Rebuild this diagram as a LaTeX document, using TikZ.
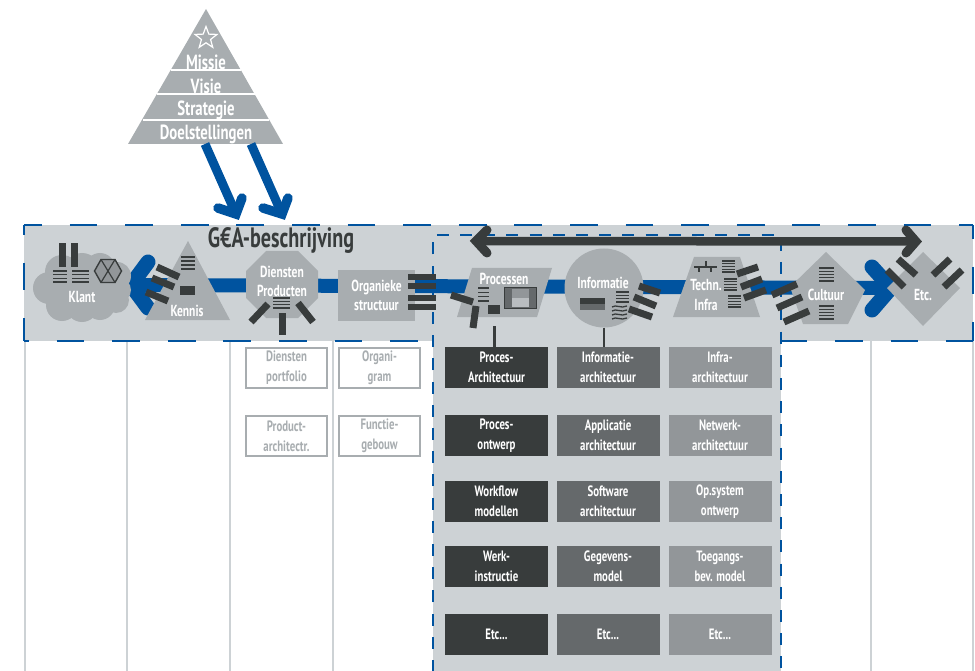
\documentclass[tikz,border=0pt]{standalone}
\usepackage{fontspec}
\setmainfont[FakeStretch=0.72]{PT Sans}
\usetikzlibrary{shapes.geometric}
\definecolor{band}{HTML}{CDD2D5}
\definecolor{shp}{HTML}{A8ADB0}
\definecolor{drk}{HTML}{383C3C}
\definecolor{mid}{HTML}{65696B}
\definecolor{lgt}{HTML}{929699}
\definecolor{blu}{HTML}{00539F}
\tikzset{
 x=1pt,y=-1pt,
 lbl/.style={text=white,font=\bfseries\fontsize{16}{16}\selectfont,inner sep=0pt,align=center},
 pyr/.style={text=white,font=\bfseries\fontsize{20.5}{20.5}\selectfont,inner sep=0pt},
 cell/.style={minimum width=103pt,minimum height=41pt,inner sep=0pt,text=white,align=center,
   font=\bfseries\fontsize{15}{20}\selectfont},
 cellD/.style={cell,fill=drk},
 cellM/.style={cell,fill=mid},
 cellL/.style={cell,fill=lgt},
 wbox/.style={minimum width=81pt,minimum height=40pt,inner sep=0pt,draw=shp,line width=2pt,fill=white,
   text=shp,align=center,font=\bfseries\fontsize{15}{20}\selectfont},
 barr/.style={line width=7pt,draw=drk},
 vline/.style={draw=band,line width=2pt},
 chev/.style={line cap=round,line join=miter,miter limit=10},
 dashside/.style={blu,line width=2.7pt,dash pattern=on 27.8pt off 27.8pt,dash phase=#1},
}
\newcommand{\stackicon}[5]{% x1 x2 y1 y2 n
  \foreach \i in {1,...,#5}{
    \pgfmathsetmacro{\yy}{#3+(#4-#3)*(\i-1)/(#5-1)}
    \draw[drk,line width=1.4pt] (#1,\yy) -- (#2,\yy);
  }}
\begin{document}
\begin{tikzpicture}
\useasboundingbox (0,0) rectangle (975,671);
\clip (0,0) rectangle (975,671);
% column rules
\foreach \xx in {25,127,230,333,871,973}{\draw[vline] (\xx,341) -- (\xx,671);}
% band
\fill[band] (24,225) rectangle (973,341);
\draw[dashside=10pt] (24,225) -- (973,225);
\draw[dashside=23pt] (24,341) -- (973,341);
\draw[dashside=18pt] (24,225) -- (24,341);
\draw[dashside=14pt] (973,225) -- (973,341);
% process panel
\fill[band] (433,235) rectangle (781,672);
\draw[blu,line width=2.7pt,dash pattern=on 12pt off 11.2pt] (433,672) -- (433,235) -- (781,235) -- (781,672);
% main blue line
\coordinate (bl) at (131,285);
\coordinate (br) at (891,288);
\draw[blu,line width=14pt] (bl) -- (br);
\draw[blu,line width=15pt,chev] ([shift={(17,-23)}]bl) -- (bl) -- ([shift={(17,23)}]bl);
\draw[blu,line width=15pt,chev] ([shift={(-19,-21)}]br) -- (br) -- ([shift={(-19,22)}]br);
% dark line
\coordinate (dl) at (476,241);
\coordinate (dr) at (916,241.5);
\draw[drk,line width=8.5pt] (dl) -- (dr);
\draw[drk,line width=9pt,chev] ([shift={(11,-11)}]dl) -- (dl) -- ([shift={(11,12)}]dl);
\draw[drk,line width=9pt,chev] ([shift={(-10,-11.5)}]dr) -- (dr) -- ([shift={(-10,11.5)}]dr);
% pyramid
\fill[shp] (206,9) -- (283,144) -- (128,144) -- cycle;
\foreach \yy/\xa/\xb in {70/171/241, 94/157/255, 120/143/269}{\draw[white,line width=1.2pt] (\xa,\yy) -- (\xb,\yy);}
\node[star,star points=5,star point ratio=2.4,draw=white,line width=1.2pt,minimum size=23pt,inner sep=0pt] (star) at (206,38) {};
\node[pyr] (missie) at (206,62) {Missie};
\node[pyr] (visie) at (206,86) {Visie};
\node[pyr] (strategie) at (206,110.5) {Strategie};
\node[pyr] (doel) at (206,134) {Doelstellingen};
\coordinate (pa1) at (205,144);\coordinate (pa2) at (251,144);
\coordinate (ta1) at (236,214);\coordinate (ta2) at (282,214);
\draw[blu,line width=9pt] (pa1) -- (ta1);
\draw[blu,line width=9pt] (pa2) -- (ta2);
\draw[blu,line width=9.5pt,chev] ([shift={(-18,-6)}]ta1) -- (ta1) -- ([shift={(6,-16)}]ta1);
\draw[blu,line width=9.5pt,chev] ([shift={(-19,-6)}]ta2) -- (ta2) -- ([shift={(6,-16)}]ta2);
% heading
\node[text=drk,font=\bfseries\fontsize{28}{28}\selectfont,inner sep=0pt] (title) at (281,240) {G€A-beschrijving};
% Klant
\foreach \cx/\cy/\r in {49/288/16,62/272/17,82/271/18,100/268/15,117/276/14,119/290/12,116/300/13,100/305/15,82/306/16,62/305/16,80/288/28,100/288/25}{
  \fill[shp] (\cx,\cy) circle (\r);}
\fill[drk] (59,243) rectangle (66,267);
\fill[drk] (71,243) rectangle (78,267);
\stackicon{53}{67}{271}{282}{4}
\stackicon{72}{89}{271}{282}{4}
\draw[drk,line width=1.4pt,fill=lgt] (94.5,271) -- (101,259.5) -- (115,259.5) -- (121.5,271) -- (115,282.5) -- (101,282.5) -- cycle;
\draw[drk,line width=1.2pt] (101,259.5) -- (115,282.5) (115,259.5) -- (101,282.5);
\node[lbl] (klant) at (82,297) {Klant};
% Kennis
\fill[shp] (188,241) -- (230,320) -- (145,320) -- cycle;
\stackicon{181}{195}{257}{269}{4}
\fill[drk] (180,286) rectangle (195,295);
\draw[barr] (157,267) -- (179,277);
\draw[barr] (152,278) -- (174,287);
\draw[barr] (146,292) -- (168,301);
\node[lbl] (kennis) at (187,311) {Kennis};
% Diensten
\fill[shp] (266,251) -- (298,251) -- (318,271) -- (318,298) -- (298,318) -- (266,318) -- (246,298) -- (246,271) -- cycle;
\node[lbl] (diensten) at (282,272) {Diensten};
\node[lbl] (producten) at (282,291) {Producten};
\stackicon{273}{290}{298}{308}{4}
\draw[barr] (268,304) -- (251,322);
\draw[barr] (282,313) -- (282,335);
\draw[barr] (298,303) -- (313,322);
% Organieke
\node[fill=shp,minimum width=77pt,minimum height=51pt,inner sep=0pt,text=white,align=center,font=\bfseries\fontsize{16}{19}\selectfont] (org) at (376.5,295.5) {Organieke\\structuur};
\foreach \yy in {277,286,298,307}{\draw[drk,line width=5.5pt] (408,\yy) -- (436,\yy);}
% Processen
\fill[shp] (472,268) -- (552,268) -- (537,317) -- (457,317) -- cycle;
\node[lbl] (processen) at (504,279) {Processen};
\coordinate (procb) at (494.5,326);
\stackicon{478}{489}{288}{301}{4}
\fill[drk] (488,305) rectangle (500,314);
\draw[drk,line width=1.2pt,fill=mid] (504.5,287.5) rectangle (536.5,308.5);
\fill[lgt] (512,289.5) rectangle (529,298);
\fill[shp!80!white] (512,298) rectangle (529,307);
\draw[barr] (451,295) -- (473,302);
\draw[barr] (476,306) -- (473,328);
% Informatie
\node[circle,fill=shp,minimum size=79pt,inner sep=0pt] (info) at (604,288) {};
\node[lbl] (infol) at (603,283) {Informatie};
\fill[drk] (580,298) rectangle (605,304);
\fill[mid] (580,304) rectangle (605,310);
\stackicon{616}{629}{292}{302}{4}
\foreach \yy in {306,310,314,318}{\draw[drk,line width=1.3pt] (612,\yy+1) .. controls (616,\yy-2) and (621,\yy+3) .. (627,\yy);}
\draw[barr] (639,286) -- (660,293);
\draw[barr] (634,297) -- (656,306);
\draw[barr] (629,309) -- (652,317);
% Techn
\fill[shp] (694,257) -- (740,257) -- (760,317) -- (673,317) -- cycle;
\node[lbl] (techn) at (706,285) {Techn.};
\node[lbl] (infra) at (706,305) {Infra};
\draw[drk,line width=1.2pt] (694,267) -- (717,267) (706,261) -- (706,267) (699,267) -- (699,272) (711,267) -- (711,272);
\stackicon{722}{735}{261}{272}{5}
\stackicon{724}{737}{279}{290}{5}
\stackicon{728}{741}{296}{307}{5}
\draw[barr] (737,274) -- (758,267);
\draw[barr] (741,287) -- (762,279);
\draw[barr] (744,298) -- (766,290);
% Cultuur
\fill[shp] (826,252) -- (865,290) -- (848,324) -- (803,324) -- (790,287) -- cycle;
\node[lbl] (cultuur) at (826,295) {Cultuur};
\stackicon{819}{834}{268}{281}{5}
\stackicon{819}{834}{306}{319}{5}
\draw[barr] (772,295) -- (797,284);
\draw[barr] (777,308) -- (802,297);
\draw[barr] (784,322) -- (809,311);
% Etc
\fill[shp] (923,252) -- (960,288) -- (923,326) -- (887,288) -- cycle;
\node[lbl] (etc) at (923,295) {Etc.};
\draw[barr] (898,259) -- (916,275);
\draw[barr] (887,270) -- (904,287);
\draw[barr] (950,259) -- (933,275);
\draw[barr] (962,270) -- (944,287);
% cells
\node[cellD] (a1) at (496.5,367.5) {Proces-\\Architectuur};
\node[cellD] (a2) at (496.5,435.5) {Proces-\\ontwerp};
\node[cellD] (a3) at (496.5,501.5) {Workflow\\modellen};
\node[cellD] (a4) at (496.5,566.5) {Werk-\\instructie};
\node[cellD] (a5) at (496.5,634.5) {Etc...};
\node[cellM] (b1) at (608,367.5) {Informatie-\\architectuur};
\node[cellM] (b2) at (608,435.5) {Applicatie\\architectuur};
\node[cellM] (b3) at (608,501.5) {Software\\architectuur};
\node[cellM] (b4) at (608,566.5) {Gegevens-\\model};
\node[cellM] (b5) at (608,634.5) {Etc...};
\node[cellL] (c1) at (720,367.5) {Infra-\\architectuur};
\node[cellL] (c2) at (720,435.5) {Netwerk-\\architectuur};
\node[cellL] (c3) at (720,501.5) {Op.system\\ontwerp};
\node[cellL] (c4) at (720,566.5) {Toegangs-\\bev. model};
\node[cellL] (c5) at (720,634.5) {Etc...};
\draw[drk,line width=2.5pt] (procb) -- (procb |- a1.north);
\draw[drk,line width=2.5pt] (info.south) -- (info.south |- b1.north);
% white boxes
\node[wbox] (w1) at (286.5,368) {Diensten\\portfolio};
\node[wbox] (w2) at (286.5,436) {Product-\\architectr.};
\node[wbox] (w3) at (379.5,368) {Organi-\\gram};
\node[wbox] (w4) at (379.5,436) {Functie-\\gebouw};
\end{tikzpicture}
\end{document}
